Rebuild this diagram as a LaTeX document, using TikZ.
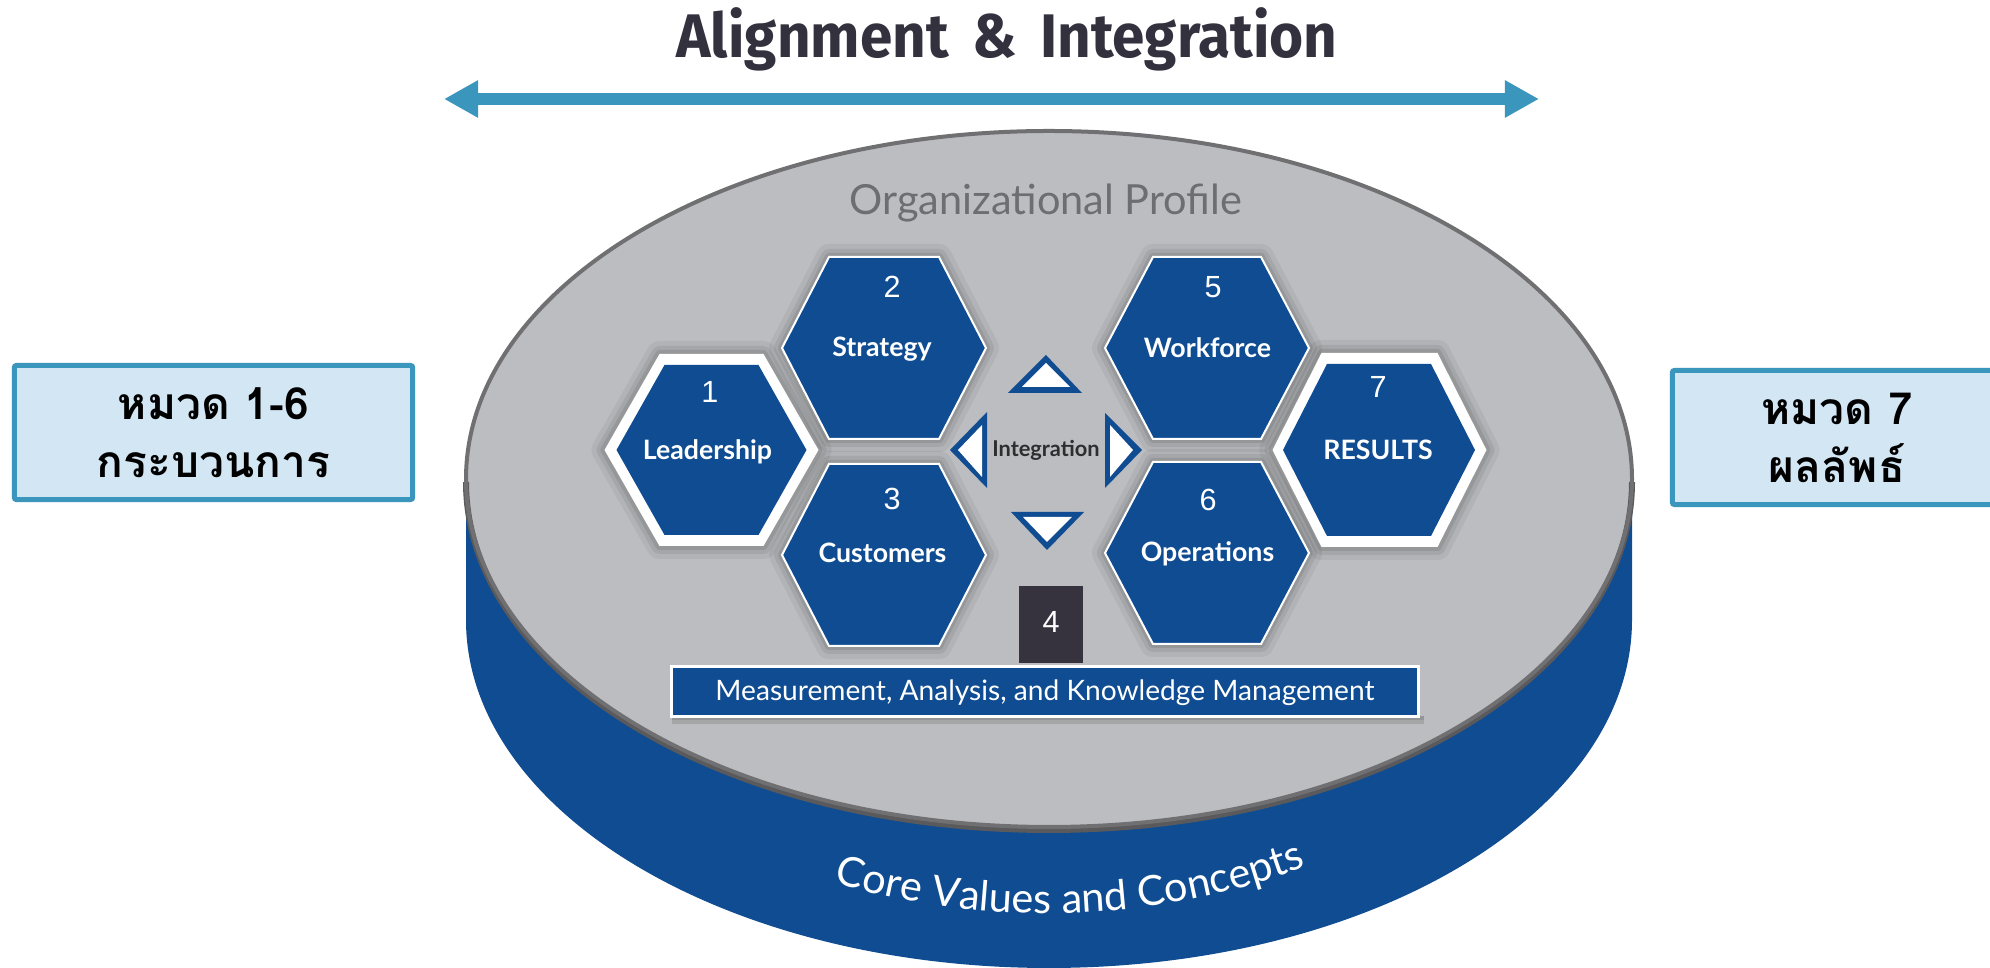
\documentclass[tikz,border=0pt]{standalone}
\usepackage{fontspec}
\setmainfont{Lato}
\newfontfamily\thaifont[Script=Thai]{Loma}
\newfontfamily\titlefont[FakeStretch=0.95,WordSpace=1.7]{Fira Sans}
\newfontfamily\numfont{Liberation Sans}
\usetikzlibrary{arrows.meta,decorations.text}
\definecolor{bblue}{HTML}{0F4C92}
\definecolor{arrowblue}{HTML}{3A96BC}
\definecolor{boxfill}{HTML}{D2E6F4}
\definecolor{topgrey}{HTML}{BCBDC0}
\definecolor{rimgrey}{HTML}{707072}
\definecolor{rimdark}{HTML}{5A5A5C}
\definecolor{titlecol}{HTML}{34313F}
\definecolor{profgrey}{HTML}{6D6E71}
\definecolor{fourbox}{HTML}{36333F}
\definecolor{integcol}{HTML}{2E2E30}
% x y halfwidth tophalf halfheight style
\newcommand\hexat[6]{\path[#6,shift={(#1,#2)}] (-#3,0) -- (-#4,-#5) -- (#4,-#5) -- (#3,0) -- (#4,#5) -- (-#4,#5) -- cycle;}
\newcommand\hexhalo[5]{%
  \hexat{#1}{#2}{#3}{#4}{#5}{draw=black,opacity=0.05,line width=0.26cm,line join=round}%
  \hexat{#1}{#2}{#3}{#4}{#5}{draw=black,opacity=0.07,line width=0.16cm,line join=round}%
  \hexat{#1}{#2}{#3}{#4}{#5}{draw=black,opacity=0.09,line width=0.08cm,line join=round}}
\tikzset{
  lbl/.style={text=white, font=\bfseries\fontsize{7.6}{9}\selectfont, inner sep=0pt, anchor=base},
  num/.style={text=white, font=\numfont\fontsize{8.7}{10}\selectfont, inner sep=0pt, anchor=base},
  thaibox/.style={draw=arrowblue, fill=boxfill, line width=0.05cm, rounded corners=0.02cm,
    align=center, font=\thaifont\bfseries\fontsize{12.6}{16.5}\selectfont, inner sep=0pt},
  tri/.style={fill=bblue},
  triin/.style={fill=white},
}
\begin{document}
\begin{tikzpicture}[x=0.01cm,y=-0.01cm]
\useasboundingbox (0,0) rectangle (1990,968);
\clip (0,0) rectangle (1990,968);
\fill[white] (0,0) rectangle (1990,968);

% title and arrow
\node[anchor=base, text=titlecol, inner sep=0pt,
  font=\titlefont\bfseries\fontsize{17.5}{21}\selectfont] (title) at (1007,58) {Alignment \& Integration};
\coordinate (arL) at (444,99);
\coordinate (arR) at (1539,99);
\draw[arrowblue, line width=0.12cm,
  {Triangle[length=0.34cm,width=0.35cm]}-{Triangle[length=0.34cm,width=0.35cm]}] (arL) -- (arR);

% side boxes
\node[thaibox, minimum width=3.98cm, minimum height=1.34cm] (b16) at (213.5,432.5) {หมวด 1-6\\กระบวนการ};
\node[thaibox, minimum width=3.29cm, minimum height=1.34cm] (b7) at (1837,437.5) {หมวด 7\\ผลลัพธ์};

% cylinder
\fill[bblue] (466,479) -- (466,620) arc[start angle=180,end angle=0,x radius=583,y radius=348] -- (1632,479) -- cycle;
\fill[topgrey] (1049,479) ellipse[x radius=583, y radius=348];
\draw[rimdark, line width=0.06cm] (466,482) arc[start angle=180,end angle=0,x radius=583,y radius=348];
\draw[rimgrey, line width=0.04cm] (1049,479) ellipse[x radius=583, y radius=348];

\path[decorate, decoration={text along path, text align=center, text color=white,
   text={|\fontsize{11.8}{13}\selectfont|Core Values and Concepts}}]
   (819,878) arc[start angle=116, end angle=58, x radius=518, y radius=350];

\node[anchor=base, text=profgrey, inner sep=0pt, font=\fontsize{11.8}{14}\selectfont] (op) at (1046,215) {Organizational Profile};

% halos
\hexhalo{711.5}{450}{107}{52}{96}
\hexhalo{884}{348}{102}{55}{91}
\hexhalo{884}{555}{102}{55}{91}
\hexhalo{1207}{348}{102}{54}{91}
\hexhalo{1207}{553}{102}{54}{91}
\hexhalo{1379.5}{450}{107}{58}{97}

% hexagons
\hexat{711.5}{450}{107}{52}{96}{fill=white}
\hexat{711.5}{450}{95}{47}{85}{fill=bblue}
\hexat{884}{348}{102}{55}{91}{fill=bblue, draw=white, line width=0.02cm}
\hexat{884}{555}{102}{55}{91}{fill=bblue, draw=white, line width=0.02cm}
\hexat{1207}{348}{102}{54}{91}{fill=bblue, draw=white, line width=0.02cm}
\hexat{1207}{553}{102}{54}{91}{fill=bblue, draw=white, line width=0.02cm}
\hexat{1379.5}{450}{107}{58}{97}{fill=white}
\hexat{1379}{450}{96}{52}{86}{fill=bblue}

% labels
\node[num] (n1) at (710,403) {1};
\node[lbl] (t1) at (707.5,460) {Leadership};
\node[num] (n2) at (892,298) {2};
\node[lbl] (t2) at (882,357) {Strategy};
\node[num] (n3) at (892,510) {3};
\node[lbl] (t3) at (882.5,563) {Customers};
\node[num] (n5) at (1213,298) {5};
\node[lbl] (t5) at (1207.5,358) {Workforce};
\node[num] (n6) at (1208,511) {6};
\node[lbl] (t6) at (1207.5,562) {Operations};
\node[num] (n7) at (1378,398) {7};
\node[lbl] (t7) at (1378,460) {RESULTS};

% integration triangles
\fill[tri] (1046,355) -- (1008,393) -- (1082,393) -- cycle;
\fill[triin] (1046,363) -- (1022,387) -- (1070,387) -- cycle;
\fill[tri] (1011,512) -- (1084,512) -- (1047,550) -- cycle;
\fill[triin] (1023,517) -- (1072,517) -- (1047,542) -- cycle;
\fill[tri] (950,450) -- (987,412) -- (987,488) -- cycle;
\fill[triin] (958,450) -- (982,425) -- (982,477) -- cycle;
\fill[tri] (1142,450) -- (1105,413) -- (1105,488) -- cycle;
\fill[triin] (1133,450) -- (1110,425) -- (1110,477) -- cycle;
\node[anchor=base, inner sep=0pt, text=integcol, font=\bfseries\fontsize{6.2}{7}\selectfont] (integ) at (1046,457) {Integration};

% category 4
\fill[black, opacity=0.12] (672,716) rectangle (1424,724);
\fill[black, opacity=0.10] (672,716) rectangle (1424,720);
\node[fill=fourbox, minimum width=0.63cm, minimum height=0.77cm, inner sep=0pt,
  text=white, font=\numfont\fontsize{8.7}{10}\selectfont, text height=0.17cm, text depth=0cm] (box4) at (1051,624.5) {4};
\node[fill=bblue, draw=white, line width=0.03cm, minimum width=7.47cm, minimum height=0.49cm, inner sep=0pt,
  text=white, font=\fontsize{8}{9}\selectfont, text height=0.19cm, text depth=0cm] (makm) at (1045,691.5) {Measurement, Analysis, and Knowledge Management};
\end{tikzpicture}
\end{document}
